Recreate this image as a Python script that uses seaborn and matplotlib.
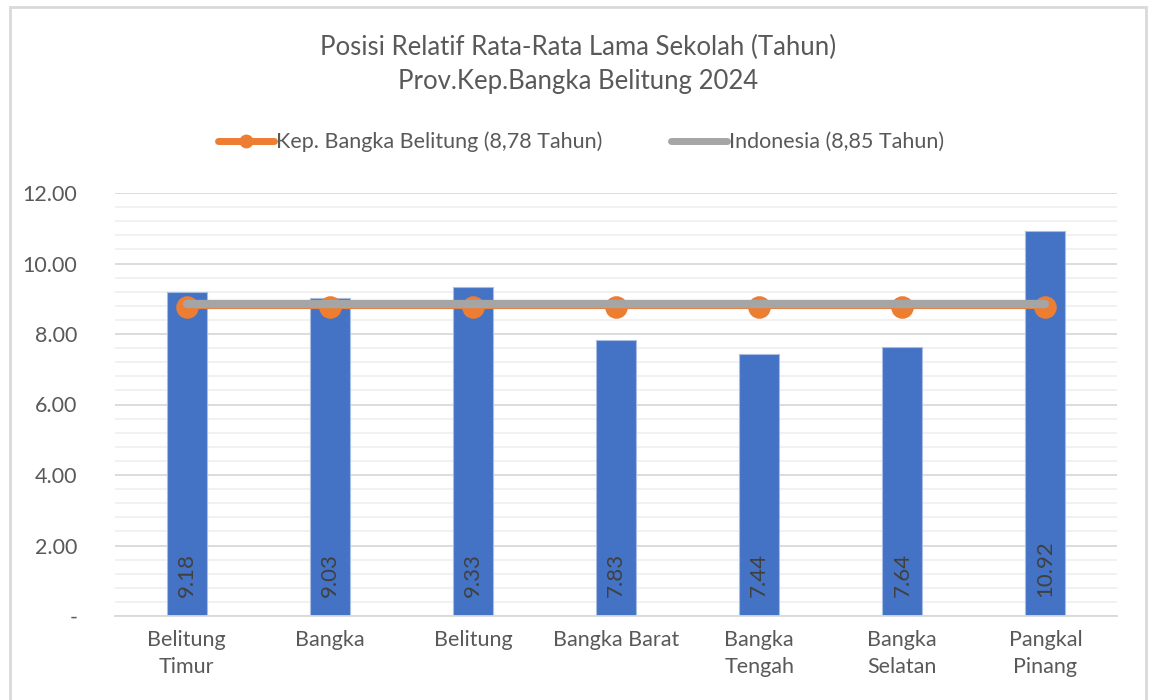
import numpy as np
import pandas as pd
import matplotlib
matplotlib.use("Agg")
import matplotlib.pyplot as plt
from matplotlib.lines import Line2D
from matplotlib.patches import Rectangle
from matplotlib.colors import to_hex
from matplotlib.ticker import MultipleLocator, FixedLocator
import seaborn as sns

categories = ["Belitung\nTimur", "Bangka", "Belitung", "Bangka Barat",
              "Bangka\nTengah", "Bangka\nSelatan", "Pangkal\nPinang"]
rls_values = [9.18, 9.03, 9.33, 7.83, 7.44, 7.64, 10.92]
prov_value = 8.78
indo_value = 8.85
prov_label = "Kep. Bangka Belitung (8,78 Tahun)"
indo_label = "Indonesia (8,85 Tahun)"
title_lines = ["Posisi Relatif Rata-Rata Lama Sekolah (Tahun)",
               "Prov.Kep.Bangka Belitung 2024"]
ytick_vals = [0, 2, 4, 6, 8, 10, 12]
ytick_labels = ["-", "2.00", "4.00", "6.00", "8.00", "10.00", "12.00"]

sns.set_theme(style="white")
plt.rcParams["font.family"] = ["Lato", "DejaVu Sans"]

BLUE = "#4472C4"
ORANGE = "#ED7D31"
GRAY = "#A5A5A5"
TXT = "#595959"

df = pd.DataFrame({"cat": categories, "val": rls_values,
                   "prov": [prov_value] * len(categories),
                   "indo": [indo_value] * len(categories)})

fig = plt.figure(figsize=(11.51, 7.0), dpi=100)
fig.patch.set_facecolor("white")
fig.patches.append(Rectangle((10/1151, -0.05), (1146-10)/1151, 1.05 - 7/700,
                             transform=fig.transFigure, fill=False,
                             edgecolor="#d9d9d9", linewidth=2, zorder=0))

ax = fig.add_axes([115/1151, 1 - 616/700, (1117-115)/1151, (616-193)/700])

sns.barplot(data=df, x="cat", y="val", color=BLUE, width=0.28, ax=ax,
            saturation=1, edgecolor="#a9bde3", linewidth=0.8)
for p in ax.patches:
    p.set_zorder(2)
sns.pointplot(data=df, x="cat", y="prov", color=ORANGE, markers="o",
              ax=ax, linewidth=3.0, markersize=14, errorbar=None)
sns.pointplot(data=df, x="cat", y="indo", color=GRAY, markers="",
              ax=ax, linewidth=6, errorbar=None)
for ln in ax.lines:
    c = to_hex(ln.get_color()).lower()
    ln.set_solid_capstyle("round")
    if c == ORANGE.lower():
        ln.set_zorder(4)
    else:
        ln.set_zorder(5)

for i, v in enumerate(rls_values):
    ax.text(i, 0.55, f"{v:.2f}", rotation=90, ha="center", va="bottom",
            fontsize=16, color="#404040", zorder=6)

ax.set_ylim(0, 12)
ax.set_xlim(-0.5, len(categories) - 0.5)
ax.yaxis.set_major_locator(FixedLocator(ytick_vals))
ax.set_yticklabels(ytick_labels)
ax.yaxis.set_minor_locator(MultipleLocator(0.4))
ax.grid(axis="y", which="major", color="#d9d9d9", linewidth=1.3, zorder=0)
ax.grid(axis="y", which="minor", color="#f0f0f0", linewidth=1.3, zorder=0)
ax.set_axisbelow(True)
ax.set_xlabel("")
ax.set_ylabel("")
for s in ["left", "right", "top"]:
    ax.spines[s].set_visible(False)
ax.spines["bottom"].set_color("#d9d9d9")
ax.spines["bottom"].set_linewidth(1.3)
ax.tick_params(axis="y", which="both", length=0, labelsize=15.5, labelcolor=TXT, pad=27)
ax.tick_params(axis="x", which="major", length=0, labelsize=15.5, labelcolor=TXT, pad=10)
ax.set_xticks(range(len(categories)))
ax.set_xticklabels(categories, linespacing=1.45)
ax.xaxis.set_minor_locator(FixedLocator(np.arange(-0.5, len(categories), 1.0)))
ax.tick_params(axis="x", which="minor", length=8, color="#d9d9d9", width=1.3)

fig.text(578/1151, 1 - 47/700, title_lines[0], ha="center", va="center",
         fontsize=18.5, color=TXT)
fig.text(578/1151, 1 - 82/700, title_lines[1], ha="center", va="center",
         fontsize=18.5, color=TXT)

handles = [Line2D([], [], color=ORANGE, linewidth=5, marker="o", markersize=9,
                  solid_capstyle="round"),
           Line2D([], [], color=GRAY, linewidth=5, solid_capstyle="round")]
fig.legend(handles, [prov_label, indo_label], loc="center",
           bbox_to_anchor=(581/1151, 1 - 142/700), ncol=2, frameon=False,
           fontsize=15.5, labelcolor=TXT, handlelength=2.6, handletextpad=0.1,
           columnspacing=3.2)

fig.savefig("out.png", dpi=100, facecolor="white")
